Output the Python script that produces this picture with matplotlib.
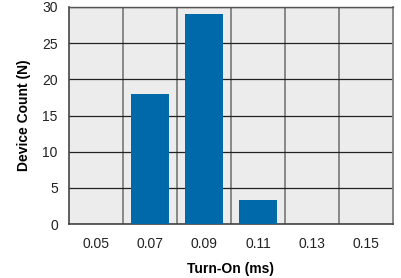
import matplotlib
matplotlib.use("Agg")
import matplotlib.pyplot as plt
import numpy as np

# Daten
turn_on = ["0.05", "0.07", "0.09", "0.11", "0.13", "0.15"]
counts = [0, 18, 29, 3.3, 0, 0]

plt.rcParams["font.family"] = ["Liberation Sans", "DejaVu Sans"]

fig = plt.figure(figsize=(4.01, 2.78), dpi=100)
ax = fig.add_axes([0.172, 0.194, 0.808, 0.781])
ax.set_facecolor("#ececec")

x = np.arange(len(turn_on))
ax.bar(x, counts, width=0.72, color="#0069aa", zorder=3)

ax.set_xlim(-0.5, len(turn_on) - 0.5)
ax.set_ylim(0, 30)
ax.set_yticks(range(0, 31, 5))
ax.set_xticks(x)
ax.set_xticklabels(turn_on)
ax.set_xticks(x[:-1] + 0.5, minor=True)

# Gitter: horizontal dunkel, vertikal grau
ax.grid(axis="y", which="major", color="#222222", linewidth=0.9, zorder=1)
ax.grid(axis="x", which="minor", color="#808080", linewidth=1.3, zorder=1)
ax.tick_params(axis="both", which="both", length=0, labelsize=10, colors="#222222")
ax.tick_params(axis="x", pad=9)
ax.tick_params(axis="y", pad=8)

for side in ["left", "bottom"]:
    ax.spines[side].set_color("#444444")
    ax.spines[side].set_linewidth(1.2)
ax.spines["right"].set_color("#808080")
ax.spines["right"].set_linewidth(1.3)
ax.spines["top"].set_color("#555555")
ax.spines["top"].set_linewidth(1.0)

ax.set_xlabel("Turn-On (ms)", fontsize=10, fontweight="bold", labelpad=8)
ax.set_ylabel("Device Count (N)", fontsize=10, fontweight="bold", labelpad=8)

fig.savefig("out.png", dpi=100)
